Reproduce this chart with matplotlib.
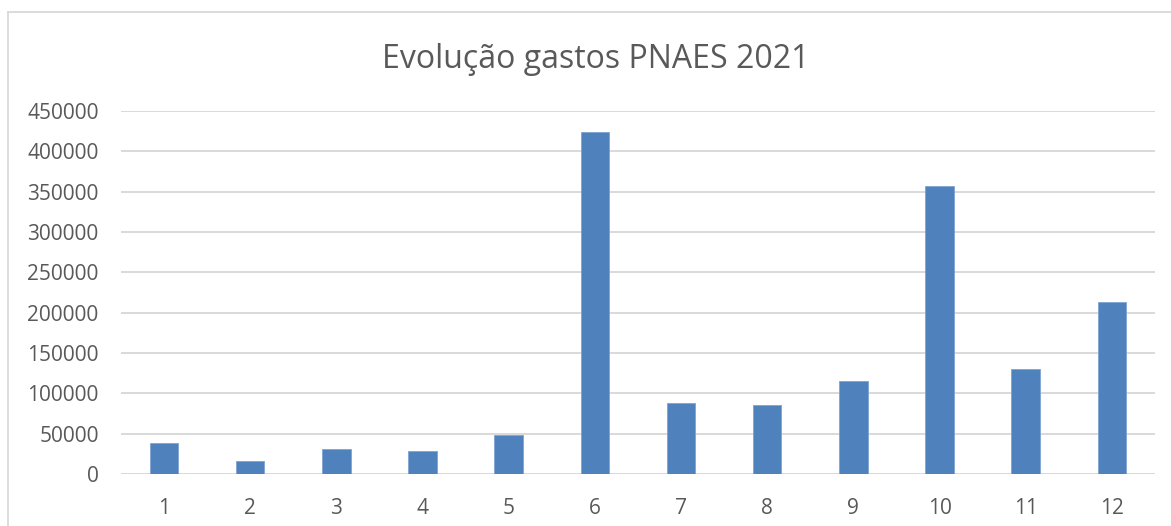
import matplotlib.pyplot as plt
from matplotlib.lines import Line2D

# Monthly values
months = [1, 2, 3, 4, 5, 6, 7, 8, 9, 10, 11, 12]
gastos = [38000, 16000, 30500, 29000, 48000, 423500, 88000, 85500, 115000, 356500, 130000, 213500]
yticks = list(range(0, 450001, 50000))

text_color = "#595959"
grid_color = "#D9D9D9"
bar_color = "#4F81BD"

plt.rcParams['font.family'] = ['Open Sans', 'DejaVu Sans']

fig = plt.figure(figsize=(11.71, 5.26), dpi=100)
ax = fig.add_axes([0.1033, 0.0989, 0.8830, 0.6900])

ax.bar(months, gastos, width=0.33, color=bar_color, edgecolor="#7EA3D3", linewidth=0.6, zorder=3)

ax.set_xlim(0.5, 12.5)
ax.set_ylim(0, 450000)
ax.set_xticks(months)
ax.set_xticklabels([str(m) for m in months])
ax.set_yticks(yticks)
ax.set_yticklabels([str(v) for v in yticks])
ax.yaxis.grid(True, color=grid_color, linewidth=1.4, zorder=0)
ax.tick_params(axis='both', length=0, labelsize=15, colors=text_color)
ax.tick_params(axis='x', pad=17)
ax.tick_params(axis='y', pad=16)
for s in ax.spines.values():
    s.set_visible(False)
ax.axhline(0, color=grid_color, linewidth=1.4, zorder=2)

fig.text(0.509, 0.886, "Evolução gastos PNAES 2021", ha='center', va='center',
         fontsize=23, color=text_color)

# light chart-area border (top and left)
fig.add_artist(Line2D([8/1171, 1.0], [1 - 12/526, 1 - 12/526], transform=fig.transFigure,
                      color=grid_color, linewidth=1.3))
fig.add_artist(Line2D([8/1171, 8/1171], [0, 1 - 12/526], transform=fig.transFigure,
                      color=grid_color, linewidth=1.3))

fig.savefig("out.png", dpi=100)
